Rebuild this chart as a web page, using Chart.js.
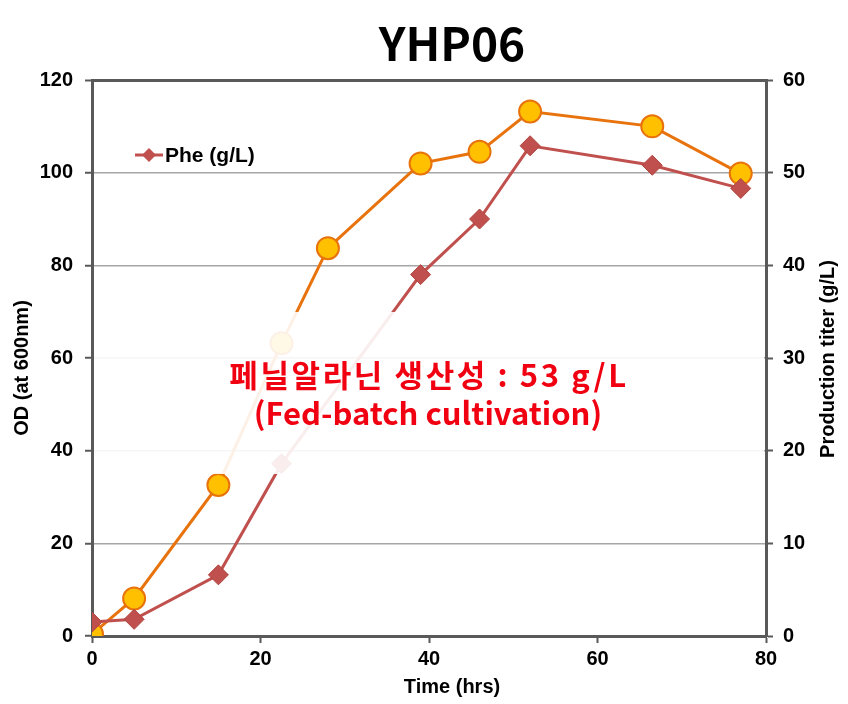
<!DOCTYPE html>
<html>
<head>
<meta charset="utf-8">
<script src="https://cdn.jsdelivr.net/npm/chart.js@4"></script>
<style>
  body { margin: 0; background: #fff; }
  #wrap { width: 848px; height: 704px; }
</style>
</head>
<body>
<div id="wrap"><canvas id="c" width="848" height="704"></canvas></div>
<script>
// data
const timeOD = [0, 5, 15, 22.5, 28, 39, 46, 52, 66.5, 77];
const odValues = [0.4, 8.1, 32.6, 63.2, 83.7, 102, 104.5, 113.2, 110, 99.8];
const timePhe = [0, 5, 15, 22.5, 39, 46, 52, 66.5, 77];
const pheValues = [1.5, 1.8, 6.6, 18.6, 39, 45, 52.9, 50.8, 48.3];
const xTicks = [0, 20, 40, 60, 80];
const chartTitle = 'YHP06';
const xTitle = 'Time (hrs)';
const yTitle = 'OD (at 600nm)';
const y1Title = 'Production titer (g/L)';
const noteLines = ['페닐알라닌 생산성 : 53 g/L', '(Fed-batch cultivation)'];

const axisColor = '#595959';
const gridColor = '#A6A6A6';
const lblFont = { family: 'Liberation Sans', size: 20, weight: 'bold' };

// title, axis titles, white note box and legend
const extras = {
  id: 'extras',
  afterDatasetsDraw(chart) {
    const ctx = chart.ctx, a = chart.chartArea;
    ctx.save();
    // faded box behind the note
    ctx.fillStyle = 'rgba(255,255,255,0.9)';
    ctx.fillRect(a.left + 2, 312, a.right - a.left - 4, 162);
    ctx.fillStyle = '#F00010';
    ctx.textAlign = 'center';
    ctx.textBaseline = 'middle';
    ctx.font = 'bold 31px "Noto Sans CJK KR"';
    ctx.letterSpacing = '2.6px';
    ctx.fillText(noteLines[0], 429, 375);
    ctx.letterSpacing = '0px';
    ctx.fillText(noteLines[1], 428, 413);

    // title
    ctx.fillStyle = '#000';
    ctx.font = 'bold 46px "Noto Sans CJK KR"';
    ctx.fillText(chartTitle, 452, 44);

    // axis titles
    ctx.font = 'bold 20px "Liberation Sans"';
    ctx.fillText(xTitle, 452, 687);
    ctx.save();
    ctx.translate(22, 368); ctx.rotate(-Math.PI / 2);
    ctx.fillText(yTitle, 0, 0);
    ctx.restore();
    ctx.save();
    ctx.translate(828, 359); ctx.rotate(-Math.PI / 2);
    ctx.fillText(y1Title, 0, 0);
    ctx.restore();

    // legend (only Phe)
    const ds = chart.data.datasets[1];
    ctx.strokeStyle = ds.borderColor;
    ctx.lineWidth = 3;
    ctx.beginPath(); ctx.moveTo(135, 155); ctx.lineTo(163, 155); ctx.stroke();
    ctx.fillStyle = ds.pointBackgroundColor;
    ctx.beginPath();
    ctx.moveTo(149, 148); ctx.lineTo(156, 155); ctx.lineTo(149, 162); ctx.lineTo(142, 155);
    ctx.closePath(); ctx.fill();
    ctx.fillStyle = '#000';
    ctx.textAlign = 'left';
    ctx.font = 'bold 21px "Liberation Sans"';
    ctx.fillText(ds.label, 165, 156);
    ctx.restore();
  }
};

new Chart(document.getElementById('c'), {
  type: 'line',
  data: {
    datasets: [
      {
        label: 'OD',
        data: timeOD.map((t, i) => ({ x: t, y: odValues[i] })),
        yAxisID: 'y',
        borderColor: '#E8720C',
        borderWidth: 3,
        pointStyle: 'circle',
        pointRadius: 11,
        pointBackgroundColor: '#FFC000',
        pointBorderColor: '#E8720C',
        pointBorderWidth: 2,
        order: 2
      },
      {
        label: 'Phe (g/L)',
        data: timePhe.map((t, i) => ({ x: t, y: pheValues[i] })),
        yAxisID: 'y1',
        borderColor: '#C0504D',
        borderWidth: 3,
        pointStyle: 'rectRot',
        pointRadius: 10,
        pointBackgroundColor: '#C0504D',
        pointBorderColor: '#B04440',
        pointBorderWidth: 1,
        order: 1
      }
    ]
  },
  options: {
    responsive: false,
    animation: false,
    layout: { padding: { top: 80, left: 0, right: 0, bottom: 0 } },
    plugins: { legend: { display: false }, tooltip: { enabled: false }, title: { display: false } },
    scales: {
      x: {
        type: 'linear', min: 0, max: 80,
        afterBuildTicks: s => { s.ticks = xTicks.map(v => ({ value: v })); },
        afterFit: s => { s.height = 68; },
        grid: { drawOnChartArea: false, tickLength: 7, tickColor: axisColor, tickWidth: 2 },
        border: { color: axisColor, width: 3 },
        ticks: { color: '#000', font: lblFont, padding: 4 }
      },
      y: {
        position: 'left', min: 0, max: 120,
        afterFit: s => { s.width = 92; },
        grid: {
          color: c => c.tick.value === 120 ? axisColor : (c.tick.value === 0 ? 'rgba(0,0,0,0)' : gridColor),
          lineWidth: c => c.tick.value === 120 ? 3 : 1.5,
          tickLength: 7, tickColor: axisColor, tickWidth: 2
        },
        border: { color: axisColor, width: 3 },
        ticks: { stepSize: 20, color: '#000', font: lblFont, padding: 12 }
      },
      y1: {
        position: 'right', min: 0, max: 60,
        afterFit: s => { s.width = 82; },
        grid: { drawOnChartArea: false, tickLength: 7, tickColor: axisColor, tickWidth: 2 },
        border: { color: axisColor, width: 3 },
        ticks: { stepSize: 10, color: '#000', font: lblFont, padding: 10 }
      }
    }
  },
  plugins: [extras]
});
</script>
</body>
</html>
